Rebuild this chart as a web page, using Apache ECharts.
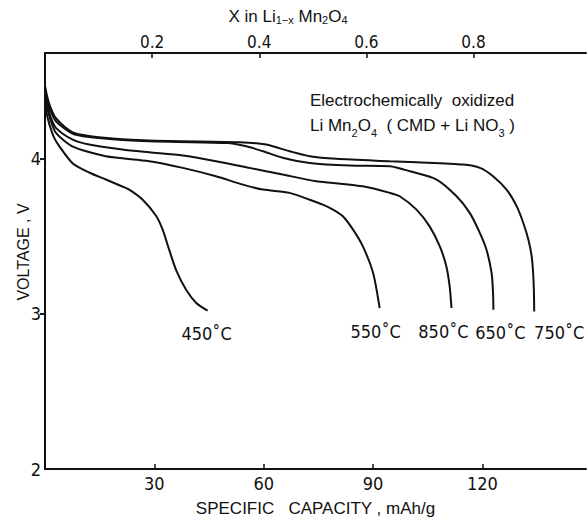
<!DOCTYPE html>
<html>
<head>
<meta charset="utf-8">
<script src="https://cdn.jsdelivr.net/npm/echarts@6/dist/echarts.min.js"></script>
<style>
  html, body { margin: 0; padding: 0; background: #fff; }
  #chart { width: 587px; height: 519px; }
</style>
</head>
<body>
<div id="chart"></div>
<script>
// Discharge curves of LiMn2O4 prepared at different temperatures
// capacity (mAh/g) and voltage (V) for each curve
const cap450 = [0, 0.4, 1.2, 2.4, 3.9, 7.55, 12.1, 16.7, 21.2, 23.1, 26.8, 30.5, 32.3, 34.1, 36.0, 38.7, 41.5, 44.6];
const v450   = [4.40, 4.30, 4.22, 4.14, 4.08, 3.97, 3.91, 3.865, 3.82, 3.80, 3.735, 3.63, 3.54, 3.41, 3.28, 3.155, 3.07, 3.02];

const cap550 = [0, 0.6, 1.5, 3.0, 7.5, 16.7, 28.6, 37.8, 46.9, 54.3, 59.8, 67.1, 72.6, 76.2, 79.0, 81.7, 84.5, 87.2, 90.0, 91.8];
const v550   = [4.41, 4.33, 4.25, 4.166, 4.079, 4.015, 3.983, 3.94, 3.886, 3.832, 3.80, 3.779, 3.735, 3.703, 3.671, 3.628, 3.542, 3.434, 3.263, 3.037];

const cap850 = [0, 0.6, 1.5, 3.0, 7.5, 12.1, 21.2, 28.6, 37.8, 46.9, 56.1, 65.2, 74.4, 79.0, 87.2, 94.6, 97.3, 101.9, 105.5, 108.3, 110.1, 111.0, 111.5];
const v850   = [4.43, 4.35, 4.27, 4.198, 4.123, 4.09, 4.058, 4.04, 4.019, 3.983, 3.94, 3.897, 3.854, 3.843, 3.821, 3.779, 3.757, 3.671, 3.563, 3.434, 3.305, 3.176, 3.037];

const cap650 = [0, 0.6, 1.5, 3.0, 7.5, 12.1, 21.2, 34.1, 50.0, 55.2, 59.8, 65.2, 72.6, 83.6, 94.6, 100.1, 107.4, 112.9, 116.5, 119.3, 121.1, 122.5, 122.9, 123.0];
const v650   = [4.45, 4.38, 4.31, 4.24, 4.16, 4.138, 4.12, 4.108, 4.10, 4.079, 4.047, 4.005, 3.972, 3.955, 3.95, 3.918, 3.865, 3.757, 3.65, 3.52, 3.413, 3.263, 3.134, 3.026];

const cap750 = [0, 0.6, 1.5, 3.0, 7.5, 12.1, 21.2, 34.1, 53.4, 60.7, 67.1, 72.6, 79.9, 94.6, 101.9, 114.7, 119.3, 122.9, 126.6, 129.4, 131.2, 132.6, 133.5, 133.9, 134.1, 134.2];
const v750   = [4.47, 4.40, 4.33, 4.26, 4.17, 4.145, 4.125, 4.113, 4.105, 4.09, 4.047, 4.015, 3.998, 3.983, 3.976, 3.961, 3.94, 3.886, 3.80, 3.692, 3.585, 3.477, 3.37, 3.263, 3.155, 3.015];

const curveNames = ['450˚C', '550˚C', '850˚C', '650˚C', '750˚C'];
const curveCaps = [cap450, cap550, cap850, cap650, cap750];
const curveVolts = [v450, v550, v850, v650, v750];

// tick values
const capTicks = [30, 60, 90, 120];
const xTicks = [0.2, 0.4, 0.6, 0.8];
const voltTicks = [3, 4];
const voltLabels = [2, 3, 4];

// label nudges (px) for the temperature tags below each curve end
const tagOffsets = [[-1, 23], [-4, 23], [-8, 23], [7, 23], [25, 21]];

const FONT = "'Liberation Sans Narrow', 'DejaVu Sans Condensed', sans-serif";
const FONT2 = "'Liberation Sans', 'DejaVu Sans', sans-serif";
const INK = '#111';
const SUB = { fontSize: 11, fontFamily: FONT2, color: INK, verticalAlign: 'bottom', lineHeight: 18, padding: [9, 0, 0, 0] };

const series = curveNames.map((name, i) => {
  const pts = curveCaps[i].map((c, k) => [c, curveVolts[i][k]]);
  const last = pts[pts.length - 1];
  return {
    name: name,
    type: 'line',
    xAxisIndex: 0,
    yAxisIndex: 0,
    data: pts,
    showSymbol: false,
    smooth: 0.25,
    lineStyle: { color: INK, width: 2 },
    silent: true,
    markPoint: {
      symbol: 'circle',
      symbolSize: 0,
      silent: true,
      data: [{ coord: last }],
      label: {
        show: true,
        position: 'inside',
        offset: tagOffsets[i],
        formatter: name,
        color: INK,
        fontFamily: FONT,
        fontSize: 18
      }
    }
  };
});

const chart = echarts.init(document.getElementById('chart'), null, { renderer: 'svg' });
chart.setOption({
  animation: false,
  backgroundColor: '#fff',
  title: {
    text: 'Electrochemically  oxidized\nLi Mn{s|2}O{s|4}  ( CMD + Li NO{s|3} )',
    left: 305,
    top: 83,
    textStyle: {
      color: INK,
      fontFamily: FONT2,
      fontSize: 17,
      fontWeight: 'normal',
      lineHeight: 25,
      rich: { s: SUB }
    }
  },
  grid: { left: 45, right: 1, top: 53, bottom: 50, outerBoundsMode: 'none' },
  xAxis: [
    {
      type: 'value',
      position: 'bottom',
      min: 0,
      max: 148.4,
      axisLine: { lineStyle: { color: INK, width: 2 } },
      axisTick: { show: true, inside: true, length: 5, customValues: capTicks, lineStyle: { color: INK, width: 1.5 } },
      axisLabel: { customValues: capTicks, margin: 5, color: INK, fontFamily: FONT, fontSize: 18 },
      splitLine: { show: false },
      name: 'SPECIFIC   CAPACITY , mAh/g',
      nameLocation: 'middle',
      nameGap: 31,
      nameMoveOverlap: false,
      nameTextStyle: { color: INK, fontFamily: FONT2, fontSize: 17 }
    },
    {
      type: 'value',
      position: 'top',
      min: 0,
      max: 1.01,
      axisLine: { lineStyle: { color: INK, width: 2 } },
      axisTick: { show: true, inside: true, length: 5, customValues: xTicks, lineStyle: { color: INK, width: 1.5 } },
      axisLabel: { customValues: xTicks, margin: 3, color: INK, fontFamily: FONT, fontSize: 17, formatter: v => v.toFixed(1) },
      splitLine: { show: false },
      name: 'X in Li{s|1−x} Mn{s|2}O{s|4}',
      nameLocation: 'middle',
      nameGap: 28,
      nameMoveOverlap: false,
      nameTextStyle: {
        color: INK, fontFamily: FONT2, fontSize: 17, padding: [0, 55, 0, 0],
        rich: { s: SUB }
      }
    }
  ],
  yAxis: [
    {
      type: 'value',
      position: 'left',
      min: 2,
      max: 4.68,
      axisLine: { show: true, lineStyle: { color: INK, width: 2 } },
      axisTick: { show: true, inside: false, length: 5, customValues: voltTicks, lineStyle: { color: INK, width: 1.5 } },
      axisLabel: { customValues: voltLabels, margin: 4, color: INK, fontFamily: FONT, fontSize: 18 },
      splitLine: { show: false },
      name: 'VOLTAGE , V',
      nameLocation: 'middle',
      nameRotate: 90,
      nameGap: 14,
      nameMoveOverlap: false,
      nameTextStyle: { color: INK, fontFamily: FONT2, fontSize: 16, padding: [0, 0, 0, 18] }
    },
    {
      type: 'value',
      position: 'right',
      min: 2,
      max: 4.68,
      axisLine: { show: true, lineStyle: { color: INK, width: 1.5 } },
      axisTick: { show: true, inside: true, length: 5, customValues: voltTicks, lineStyle: { color: INK, width: 1.5 } },
      axisLabel: { show: false },
      splitLine: { show: false }
    }
  ],
  series: series
});
</script>
</body>
</html>
